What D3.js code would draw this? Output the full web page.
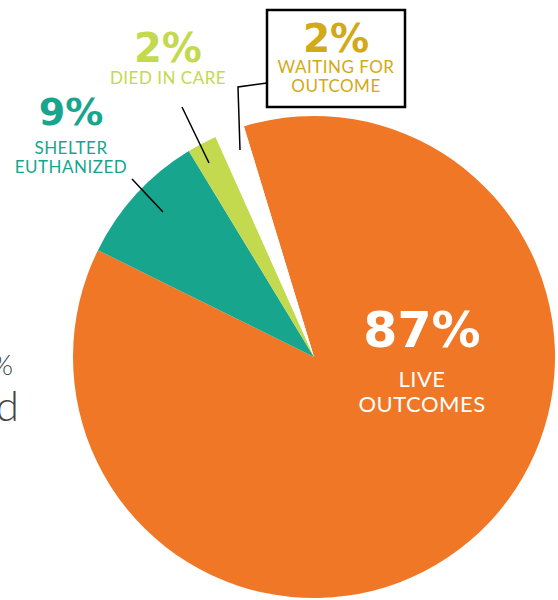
<!DOCTYPE html>
<html>
<head>
<meta charset="utf-8">
<script src="https://cdn.jsdelivr.net/npm/d3@7"></script>
<style>
  body { margin: 0; background: #fff; }
  svg { display: block; font-family: Lato, "Open Sans", sans-serif; }
</style>
</head>
<body>
<svg id="pie" width="558" height="600"></svg>
<script>
var categories = ["LIVE OUTCOMES", "SHELTER EUTHANIZED", "DIED IN CARE", "WAITING FOR OUTCOME"];
var values     = [87, 9, 2, 2];
var colors     = ["#ef7726", "#17a58e", "#c3d94e", "#ffffff"];

var cx = 314, cy = 357, radius = 241;
var startDeg = -16.9;

var svg = d3.select("#pie");

var pie = d3.pie()
  .sort(null)
  .value(function(d) { return d; })
  .startAngle(startDeg * Math.PI / 180)
  .endAngle((startDeg + 360) * Math.PI / 180);

var arc = d3.arc().innerRadius(0).outerRadius(radius);

var g = svg.append("g")
  .attr("transform", "translate(" + cx + "," + cy + ")");

g.selectAll("path")
  .data(pie(values))
  .enter()
  .append("path")
  .attr("d", arc)
  .attr("fill", function(d, i) { return colors[i]; });

// clipped fragments of text at the left edge
svg.append("text")
  .attr("x", 13).attr("y", 375)
  .attr("text-anchor", "end")
  .attr("font-size", 28).attr("font-weight", 300)
  .attr("fill", "#444")
  .text("%");
svg.append("text")
  .attr("x", 19).attr("y", 421)
  .attr("text-anchor", "end")
  .attr("font-size", 42).attr("font-weight", 300)
  .attr("fill", "#444")
  .text("d");

// leader lines
var line = d3.line();
svg.append("path")
  .attr("d", line([[132, 179], [163, 212]]))
  .attr("stroke", "#000").attr("stroke-width", 1.5).attr("fill", "none");
svg.append("path")
  .attr("d", line([[182, 107], [209, 163]]))
  .attr("stroke", "#000").attr("stroke-width", 1.5).attr("fill", "none");
svg.append("path")
  .attr("d", line([[240, 150], [238, 87], [267, 83]]))
  .attr("stroke", "#000").attr("stroke-width", 1.5).attr("fill", "none");

// box for waiting label
svg.append("rect")
  .attr("x", 267).attr("y", 10)
  .attr("width", 138).attr("height", 97)
  .attr("fill", "#fff")
  .attr("stroke", "#000").attr("stroke-width", 2.5);

function label(x, y, pct, lines, color, big, small, lh) {
  var t = svg.append("g").attr("fill", color).attr("text-anchor", "middle");
  t.append("text")
    .attr("x", x).attr("y", y)
    .attr("font-family", "DejaVu Sans")
    .attr("font-size", big).attr("font-weight", 700)
    .text(pct);
  lines.forEach(function(s, i) {
    t.append("text")
      .attr("x", x).attr("y", y + lh[0] + i * lh[1])
      .attr("font-size", small).attr("font-weight", 400)
      .attr("letter-spacing", 0.5)
      .text(s);
  });
}

label(422, 347, values[0] + "%", ["LIVE", "OUTCOMES"], "#fff", 49, 22, [40, 25]);
label(71, 125, values[1] + "%", ["SHELTER", "EUTHANIZED"], colors[1], 38, 17, [29, 19]);
label(168, 62, values[2] + "%", ["DIED IN CARE"], colors[2], 40, 17, [22, 0]);
label(336, 52, values[3] + "%", ["WAITING FOR", "OUTCOME"], "#d2a917", 39, 17, [21, 19]);
</script>
</body>
</html>
